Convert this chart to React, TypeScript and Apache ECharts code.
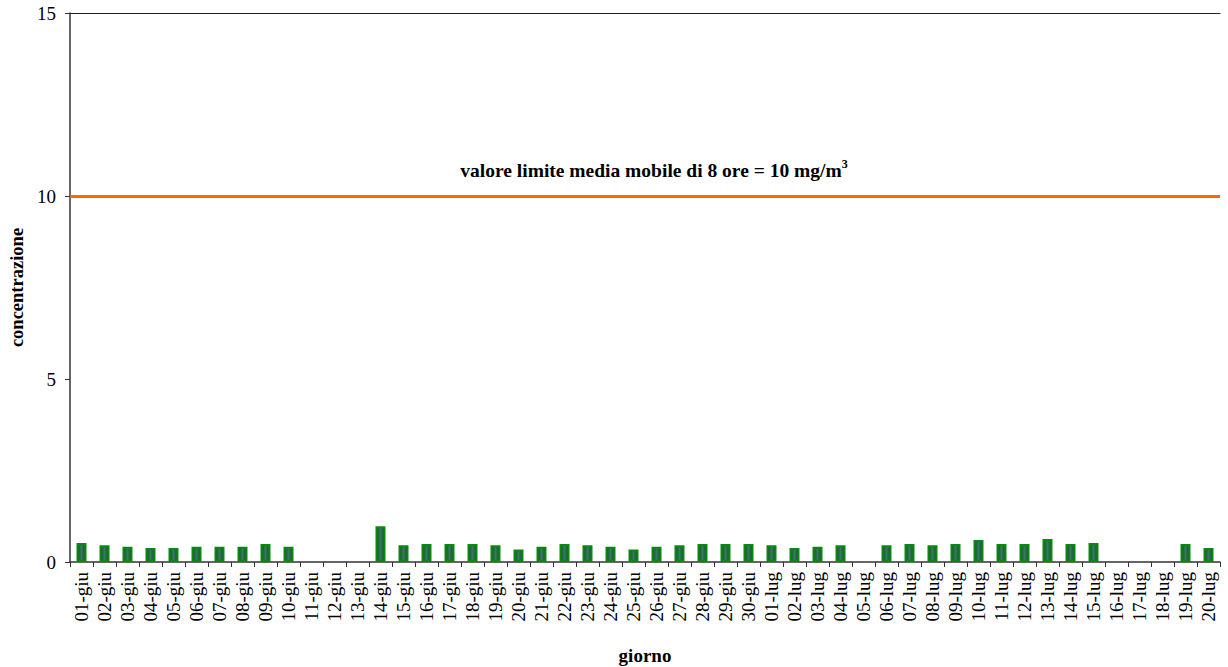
import React, { useEffect, useRef } from "react";
import * as echarts from "echarts";

const categories: string[] = [
  "01-giu", "02-giu", "03-giu", "04-giu", "05-giu", "06-giu", "07-giu", "08-giu", "09-giu", "10-giu",
  "11-giu", "12-giu", "13-giu", "14-giu", "15-giu", "16-giu", "17-giu", "18-giu", "19-giu", "20-giu",
  "21-giu", "22-giu", "23-giu", "24-giu", "25-giu", "26-giu", "27-giu", "28-giu", "29-giu", "30-giu",
  "01-lug", "02-lug", "03-lug", "04-lug", "05-lug", "06-lug", "07-lug", "08-lug", "09-lug", "10-lug",
  "11-lug", "12-lug", "13-lug", "14-lug", "15-lug", "16-lug", "17-lug", "18-lug", "19-lug", "20-lug",
];

const concentrazione: (number | null)[] = [
  0.52, 0.46, 0.42, 0.38, 0.38, 0.42, 0.42, 0.42, 0.49, 0.42,
  null, null, null, 0.98, 0.46, 0.49, 0.49, 0.49, 0.46, 0.34,
  0.42, 0.49, 0.46, 0.42, 0.34, 0.42, 0.46, 0.49, 0.49, 0.49,
  0.46, 0.38, 0.42, 0.46, null, 0.46, 0.49, 0.46, 0.49, 0.6,
  0.49, 0.49, 0.63, 0.49, 0.52, null, null, null, 0.49, 0.38,
];

const limitValue = 10;
const yTicks = { min: 0, max: 15, interval: 5 };

const serif = "Times New Roman";

export default function App() {
  const ref = useRef<HTMLDivElement>(null);

  useEffect(() => {
    if (!ref.current) return;
    const chart = echarts.init(ref.current, undefined, { renderer: "svg" });
    chart.setOption({
      animation: false,
      backgroundColor: "#ffffff",
      textStyle: { fontFamily: serif },
      title: {
        text: "valore limite media mobile di 8 ore = 10 mg/m{sup|3}",
        left: 649,
        top: 153,
        textAlign: "center",
        textStyle: {
          fontFamily: serif,
          fontSize: 19.5,
          fontWeight: "bold",
          color: "#000",
          rich: {
            sup: {
              fontFamily: serif,
              fontSize: 12,
              fontWeight: "bold",
              color: "#000",
              verticalAlign: "top",
              padding: [0, 0, 12, 0],
            },
          },
        },
      },
      grid: { left: 70, right: 8, top: 13, bottom: 105, containLabel: false, outerBoundsMode: "none" },
      xAxis: [
        {
          type: "category",
          data: categories,
          boundaryGap: true,
          name: "giorno",
          nameLocation: "middle",
          nameGap: 84,
          nameTextStyle: { fontFamily: serif, fontSize: 19, fontWeight: "bold", color: "#000" },
          axisLine: { show: true, lineStyle: { color: "#333", width: 1.5 } },
          axisTick: { show: true, alignWithLabel: false, length: 5, lineStyle: { color: "#333" } },
          axisLabel: {
            rotate: 90,
            interval: 0,
            margin: 10,
            fontFamily: serif,
            fontSize: 19,
            color: "#000",
          },
          splitLine: { show: false },
        },
        {
          type: "category",
          position: "top",
          data: categories,
          axisLine: { show: true, lineStyle: { color: "#222", width: 1.2 } },
          axisTick: { show: false },
          axisLabel: { show: false },
          splitLine: { show: false },
        },
      ],
      yAxis: {
        type: "value",
        min: yTicks.min,
        max: yTicks.max,
        interval: yTicks.interval,
        name: "concentrazione",
        nameLocation: "middle",
        nameGap: 44,
        nameTextStyle: { fontFamily: serif, fontSize: 18.5, fontWeight: "bold", color: "#000" },
        axisLine: { show: true, lineStyle: { color: "#333", width: 1.5 } },
        axisTick: { show: true, length: 5, lineStyle: { color: "#333" } },
        axisLabel: { fontFamily: serif, fontSize: 19, color: "#000", margin: 14 },
        splitLine: { show: false },
      },
      series: [
        {
          type: "bar",
          data: concentrazione,
          barWidth: 10,
          itemStyle: {
            color: new echarts.graphic.LinearGradient(0, 0, 1, 0, [
              { offset: 0, color: "#1a4a30" },
              { offset: 0.5, color: "#2f7d5c" },
              { offset: 1, color: "#1a4a30" },
            ]),
            borderColor: "#0a8a0a",
            borderWidth: 2,
          },
          markLine: {
            silent: true,
            symbol: "none",
            label: { show: false },
            lineStyle: { color: "#ff6600", width: 3, type: "solid" },
            data: [{ yAxis: limitValue }],
          },
        },
      ],
    });
    return () => chart.dispose();
  }, []);

  return (
    <div
      ref={ref}
      style={{ position: "fixed", left: 0, top: 0, width: 1228, height: 667, background: "#fff" }}
    />
  );
}
